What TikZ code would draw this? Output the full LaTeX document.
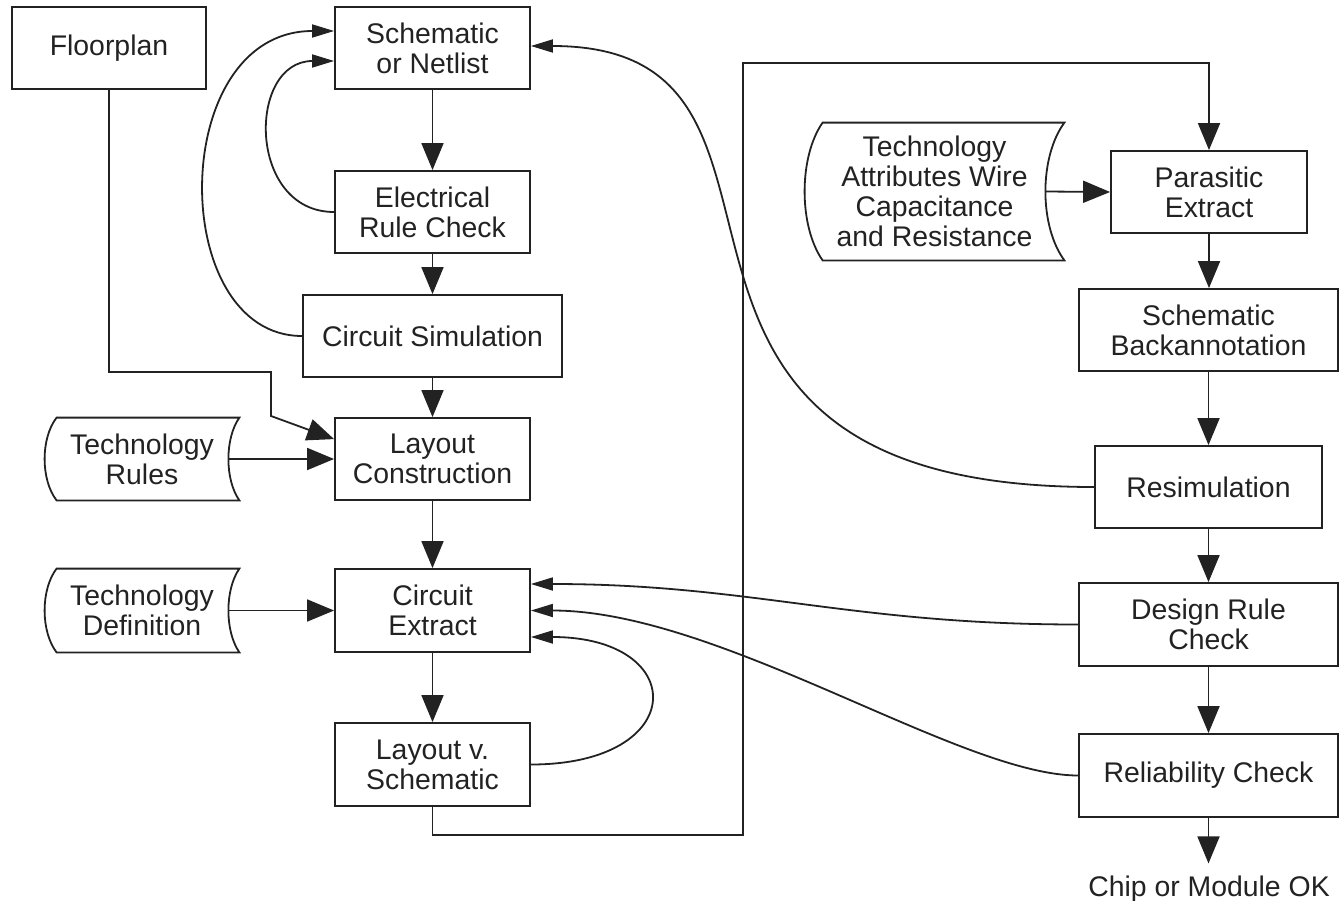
\documentclass[tikz,border=0pt]{standalone}
\usepackage{fontspec}
\setmainfont{Liberation Sans}
\usetikzlibrary{arrows.meta,calc}
\definecolor{ink}{HTML}{222222}
% tape (stored data) outline around a node: #1 node, #2 left corner offset (px), #3 right inset (px)
\newcommand{\tapeoutline}[3]{%
  \draw[plain] ($(#1.north west)+(#2,0)$) -- (#1.north east)
    .. controls ($(#1.north east)!0.25!(#1.south east)+(-#3*4/3,0)$) and ($(#1.north east)!0.75!(#1.south east)+(-#3*4/3,0)$) .. (#1.south east)
    -- ($(#1.south west)+(#2,0)$)
    .. controls ($(#1.north west)!0.75!(#1.south west)+(-#2/3,0)$) and ($(#1.north west)!0.25!(#1.south west)+(-#2/3,0)$) .. ($(#1.north west)+(#2,0)$) -- cycle;}
\begin{document}
\begin{tikzpicture}[x=0.5pt,y=-0.5pt,
  every node/.style={font=\fontsize{14.2pt}{15pt}\selectfont, text=ink},
  box/.style={draw=ink, line width=0.9pt, rectangle, align=center, inner sep=0pt},
  tape/.style={align=center, inner sep=0pt},
  big/.style={draw=ink, line width=0.9pt, -{Triangle[length=13.5pt,width=11pt]}},
  small/.style={draw=ink, line width=0.9pt, -{Triangle[length=11pt,width=6.5pt]}},
  plain/.style={draw=ink, line width=0.9pt}]
\useasboundingbox (0,0) rectangle (1339,900);

% left column
\node[box, minimum width=97pt, minimum height=41pt] (fp) at (109,48) {Floorplan};
\node[box, minimum width=97.5pt, minimum height=41pt] (sch) at (432.5,48) {Schematic\\or Netlist};
\node[box, minimum width=97.5pt, minimum height=41pt] (erc) at (432.5,212) {Electrical\\Rule Check};
\node[box, minimum width=129.5pt, minimum height=41pt] (cs) at (432.5,336) {Circuit Simulation};
\node[box, minimum width=97.5pt, minimum height=41pt] (lc) at (432.5,459) {Layout\\Construction};
\node[box, minimum width=97.5pt, minimum height=41.5pt] (ce) at (432.5,610.5) {Circuit\\Extract};
\node[box, minimum width=97.5pt, minimum height=41.5pt] (lvs) at (432.5,764.5) {Layout v.\\Schematic};

% tapes
\node[tape, minimum width=97pt, minimum height=41pt] (tr) at (142,459) {Technology\\Rules};
\node[tape, minimum width=97pt, minimum height=41.5pt] (td) at (142,610.5) {Technology\\Definition};
\node[tape, minimum width=129.5pt, minimum height=68.5pt] (ta) at (934.5,191.5) {Technology\\Attributes Wire\\Capacitance\\and Resistance};
\tapeoutline{tr}{12}{11}
\tapeoutline{td}{12}{11}
\tapeoutline{ta}{18}{19}

% right column
\node[box, minimum width=98pt, minimum height=41pt] (pe) at (1209,192) {Parasitic\\Extract};
\node[box, minimum width=129.5pt, minimum height=41pt] (ba) at (1208.5,330) {Schematic\\Backannotation};
\node[box, minimum width=113.5pt, minimum height=41pt] (res) at (1208.5,487) {Resimulation};
\node[box, minimum width=129.5pt, minimum height=41.5pt] (drc) at (1208.5,624.5) {Design Rule\\Check};
\node[box, minimum width=129.5pt, minimum height=41.5pt] (rel) at (1208.5,775.5) {Reliability Check};
\node[inner sep=0pt, outer ysep=6pt, anchor=base] (ok) at (1209,896) {Chip or Module OK};

% main flow
\draw[big] (sch.south) -- (sch.south |- erc.north);
\draw[big] (erc.south) -- (erc.south |- cs.north);
\draw[big] (cs.south) -- (cs.south |- lc.north);
\draw[big] (lc.south) -- (lc.south |- ce.north);
\draw[big] (ce.south) -- (ce.south |- lvs.north);
\draw[big] (pe.south) -- (pe.south |- ba.north);
\draw[big] (ba.south) -- (ba.south |- res.north);
\draw[big] (res.south) -- (res.south |- drc.north);
\draw[big] (drc.south) -- (drc.south |- rel.north);
\draw[big] (rel.south) -- (rel.south |- ok.north);

% technology inputs
\draw[big] ($(tr.east)+(-11,0)$) -- (lc.west);
\draw[big] ($(td.east)+(-11,0)$) -- (ce.west);
\draw[big] ($(ta.east)+(-19,0)$) -- (pe.west);

% floorplan
\coordinate (fk1) at (271,372);
\coordinate (fk2) at (271,416);
\draw[big] (fp.south) |- (fk1) -- (fk2) -- ($(lc.north west)+(0,22)$);

% feedback loops to schematic
\draw[small] (cs.west) .. controls (167,336) and (167,31) .. ($(sch.west)+(0,-17)$);
\draw[small] (erc.west) .. controls (247,212) and (247,61) .. ($(sch.west)+(0,13)$);
\draw[small] (res.west) .. controls (568,487) and (857,46) .. ($(sch.east)+(0,-2)$);

% feedback loops to circuit extract
\draw[small] (drc.west) .. controls (850,624.5) and (750,584) .. ($(ce.east)+(0,-26.5)$);
\draw[small] (rel.west) .. controls (960,775.5) and (720,610.5) .. (ce.east);
\draw[small] (lvs.east) .. controls (690,764.5) and (690,637) .. ($(ce.east)+(0,26.5)$);

% LVS to parasitic extract
\coordinate (fb1) at (743,835);
\coordinate (fb2) at (743,63);
\draw[big] (lvs.south) |- (fb1) -- (fb2) -| (pe.north);
\end{tikzpicture}
\end{document}
